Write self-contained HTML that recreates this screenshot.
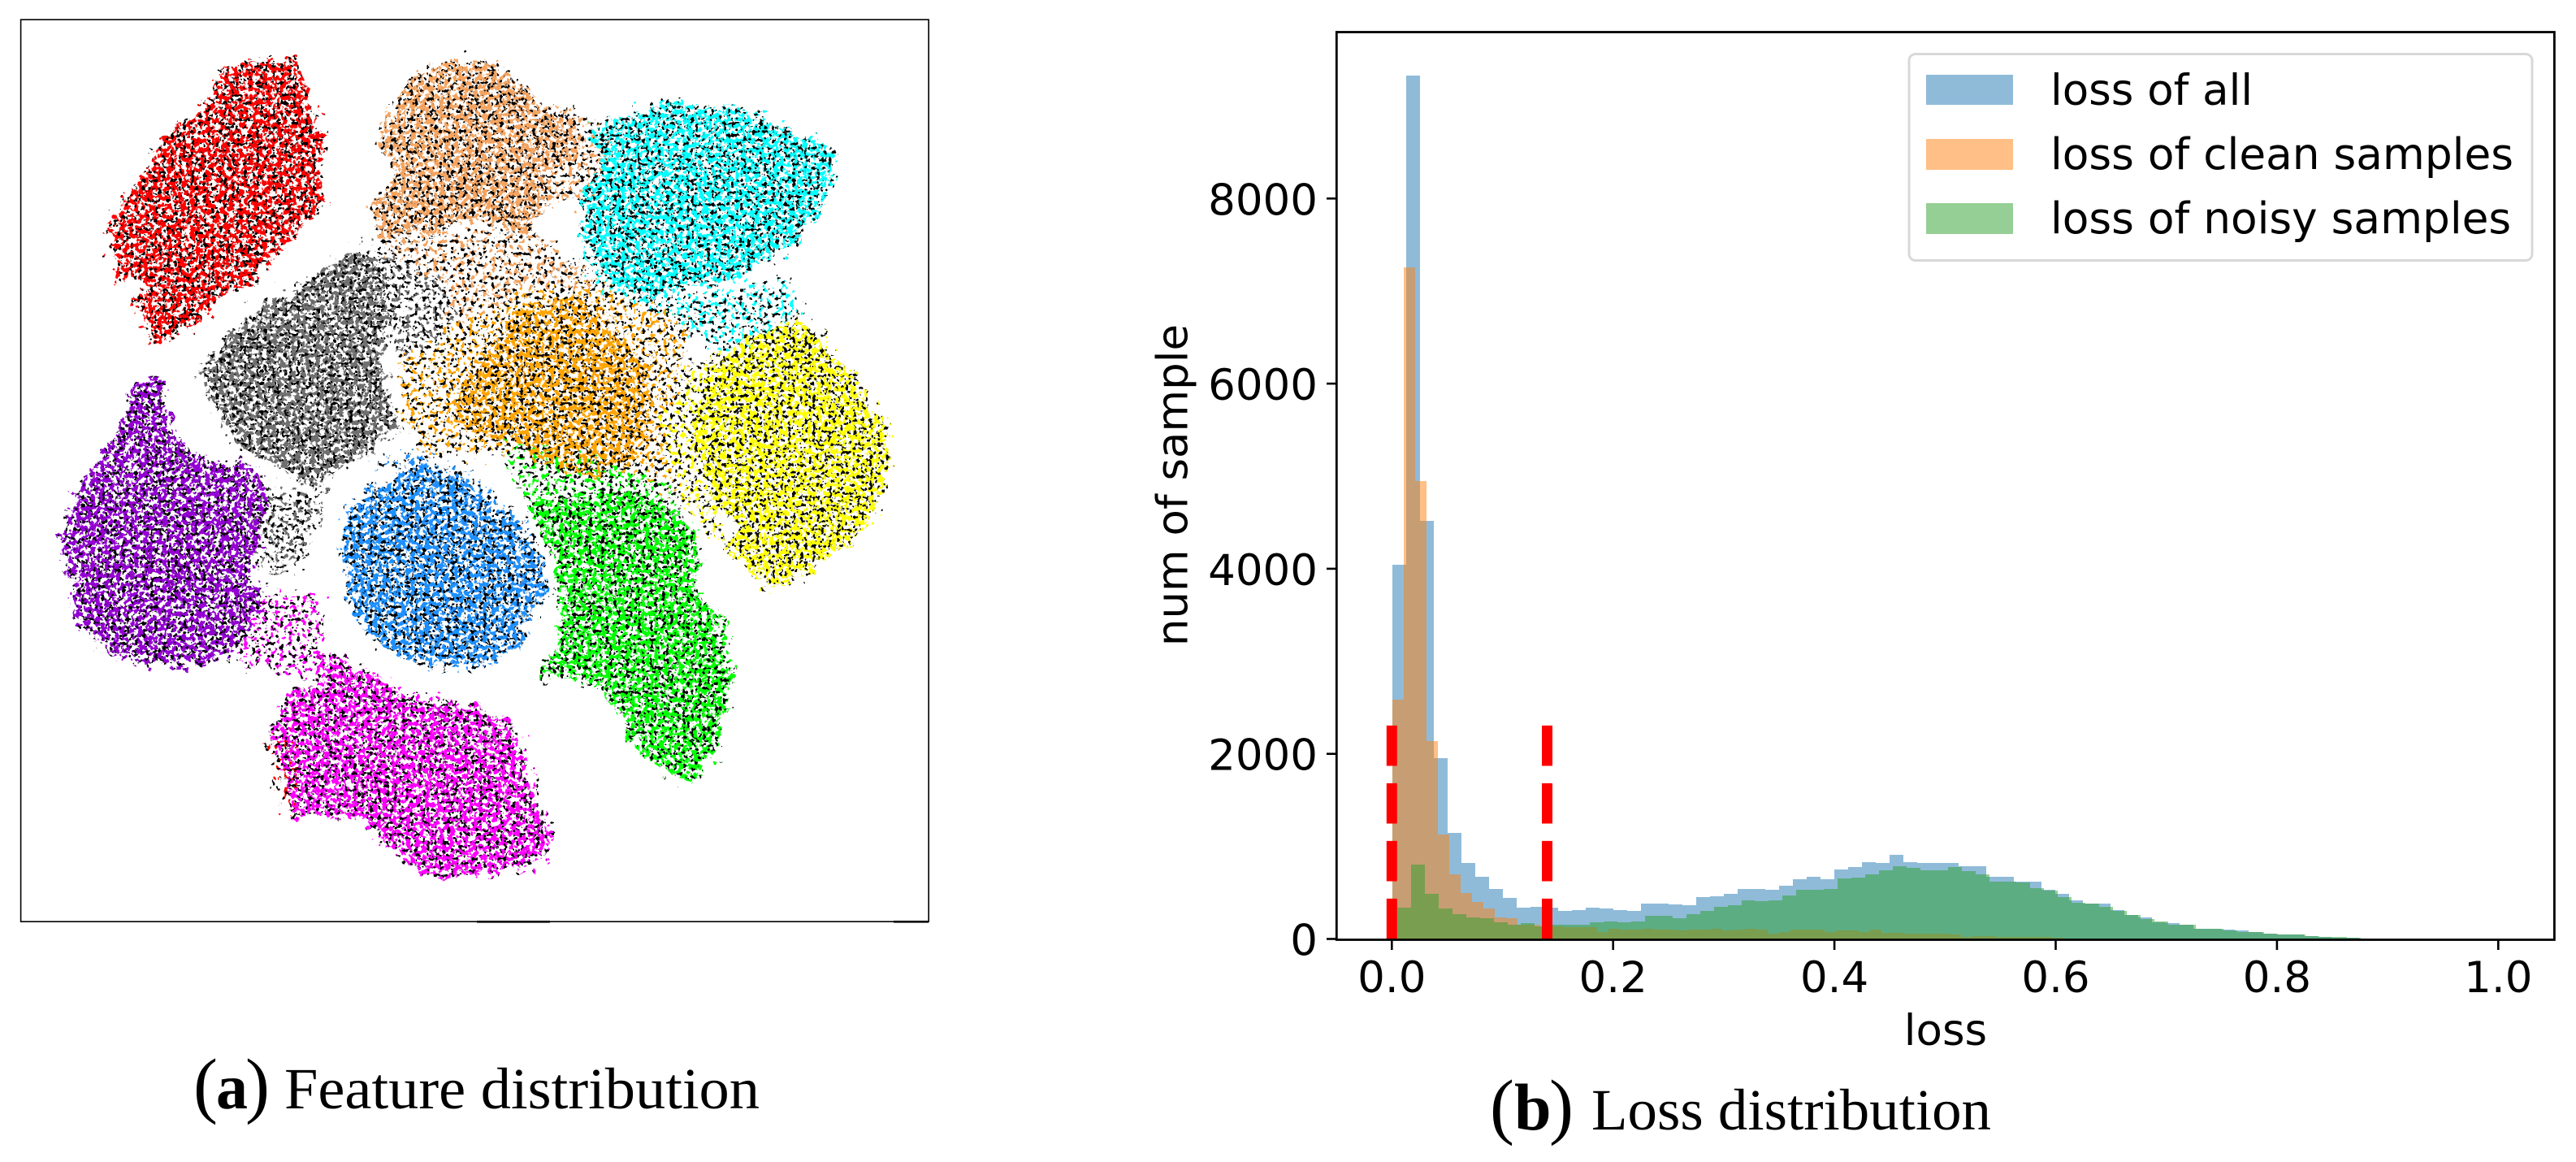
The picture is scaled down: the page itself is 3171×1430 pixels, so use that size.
<!DOCTYPE html>
<html>
<head>
<meta charset="utf-8">
<title>Feature and loss distribution</title>
<style>
html,body{margin:0;padding:0;background:#fff;}
svg{display:block;}
text{font-family:"DejaVu Sans","Liberation Sans",sans-serif;fill:#000;}
.cap{font-family:"Liberation Serif",serif;}
</style>
</head>
<body>
<svg id="figure" xmlns="http://www.w3.org/2000/svg" width="3171" height="1430" viewBox="0 0 3171 1430">
  <defs>
    <filter id="speckle-core" filterUnits="userSpaceOnUse" x="0" y="0" width="1171" height="1150" color-interpolation-filters="sRGB">
      <feTurbulence type="fractalNoise" baseFrequency="0.05" numOctaves="2" seed="4" result="warp"/>
      <feDisplacementMap in="SourceGraphic" in2="warp" scale="30" xChannelSelector="R" yChannelSelector="G" result="shape"/>
      <feTurbulence type="fractalNoise" baseFrequency="0.17" numOctaves="2" seed="7" result="n1"/>
      <feColorMatrix in="n1" type="matrix" values="0 0 0 0 0  0 0 0 0 0  0 0 0 0 0  0 0 0 30 -15.2" result="m1"/>
      <feComposite in="shape" in2="m1" operator="in" result="dots"/>
      <feTurbulence type="fractalNoise" baseFrequency="0.2" numOctaves="2" seed="23" result="n2"/>
      <feColorMatrix in="n2" type="matrix" values="0 0 0 0 0  0 0 0 0 0  0 0 0 0 0  0 0 0 30 -18.9" result="m2"/>
      <feComposite in="shape" in2="m2" operator="in" result="shape2"/>
      <feColorMatrix in="shape2" type="matrix" values="0 0 0 0 0  0 0 0 0 0  0 0 0 0 0  0 0 0 1 0" result="blackDots"/>
      <feMerge>
        <feMergeNode in="dots"/>
        <feMergeNode in="blackDots"/>
      </feMerge>
    </filter>
    <filter id="speckle-sparse" filterUnits="userSpaceOnUse" x="0" y="0" width="1171" height="1150" color-interpolation-filters="sRGB">
      <feTurbulence type="fractalNoise" baseFrequency="0.09" numOctaves="2" seed="9" result="warp"/>
      <feDisplacementMap in="SourceGraphic" in2="warp" scale="50" xChannelSelector="R" yChannelSelector="G" result="shape"/>
      <feTurbulence type="fractalNoise" baseFrequency="0.18" numOctaves="2" seed="31" result="n1"/>
      <feColorMatrix in="n1" type="matrix" values="0 0 0 0 0  0 0 0 0 0  0 0 0 0 0  0 0 0 30 -17.4" result="m1"/>
      <feComposite in="shape" in2="m1" operator="in" result="dots"/>
      <feTurbulence type="fractalNoise" baseFrequency="0.2" numOctaves="2" seed="47" result="n2"/>
      <feColorMatrix in="n2" type="matrix" values="0 0 0 0 0  0 0 0 0 0  0 0 0 0 0  0 0 0 30 -18.6" result="m2"/>
      <feComposite in="shape" in2="m2" operator="in" result="shape2"/>
      <feColorMatrix in="shape2" type="matrix" values="0 0 0 0 0  0 0 0 0 0  0 0 0 0 0  0 0 0 1 0" result="blackDots"/>
      <feMerge>
        <feMergeNode in="dots"/>
        <feMergeNode in="blackDots"/>
      </feMerge>
    </filter>
  </defs>

  <g id="panel-a">
    <g id="sparse-layer" filter="url(#speckle-sparse)"></g>
    <g id="core-layer" filter="url(#speckle-core)"></g>
    <rect x="25.6" y="24.2" width="1117.6" height="1110" fill="none" stroke="#000" stroke-width="1.6"/>
    <rect x="587" y="1133" width="90" height="2.6" fill="#000"/>
    <rect x="1100" y="1133" width="43" height="2.6" fill="#000"/>
  </g>

  <g id="panel-b">
    <g id="bars" shape-rendering="crispEdges"></g>
    <g id="thresholds"></g>
    <g id="axes"></g>
    <text x="2395" y="1286" font-size="53" text-anchor="middle">loss</text>
    <text transform="translate(1461.5,597) rotate(-90)" font-size="53" text-anchor="middle">num of sample</text>
    <g id="legend">
      <rect x="2350" y="66.5" width="767" height="254" rx="8" ry="8" fill="#fff" fill-opacity="0.8" stroke="#d8d8d8" stroke-width="3"/>
      <rect x="2371" y="92" width="107" height="37" fill="#1f77b4" fill-opacity="0.5"/>
      <text x="2524" y="129" font-size="53">loss of all</text>
      <rect x="2371" y="171" width="107" height="38" fill="#ff7f0e" fill-opacity="0.5"/>
      <text x="2524" y="208" font-size="53.3">loss of clean samples</text>
      <rect x="2371" y="250" width="107" height="38" fill="#2ca02c" fill-opacity="0.5"/>
      <text x="2524" y="287" font-size="53.3">loss of noisy samples</text>
    </g>
  </g>

  <g id="caption-a">
    <text class="cap" x="238" y="1365" font-size="90">(</text>
    <text class="cap" x="266" y="1364" font-size="78" font-weight="bold">a</text>
    <text class="cap" x="302" y="1365" font-size="90">)</text>
    <text class="cap" x="350" y="1364" font-size="72" textLength="585" lengthAdjust="spacingAndGlyphs">Feature distribution</text>
  </g>
  <g id="caption-b">
    <text class="cap" x="1834" y="1391" font-size="90">(</text>
    <text class="cap" x="1864" y="1390" font-size="82" font-weight="bold">b</text>
    <text class="cap" x="1907" y="1391" font-size="90">)</text>
    <text class="cap" x="1959" y="1390" font-size="72" textLength="492" lengthAdjust="spacingAndGlyphs">Loss distribution</text>
  </g>
</svg>

<script>
// ---- Histogram data (counts per bin) ----
var allCounts = [4043,9328,4517,1953,1146,823,672,544,439,342,351,334,307,316,334,325,316,307,386,386,369,360,448,465,483,536,544,527,579,641,676,641,755,773,834,825,913,834,825,825,825,790,790,676,676,615,615,527,483,421,386,386,316,263,237,184,167,158,114,114,97,88,79,53,44,44,35,26,15,9,4];
var cleanCounts = [2588,7256,4947,2138,1127,698,492,399,329,237,220,158,158,140,132,123,123,123,79,114,105,97,114,97,105,88,97,97,114,88,97,114,97,61,79,97,97,97,79,88,88,79,97,70,70,61,61,61,53,44,26,35,35,26,18,18,18,18,9,4];
var noisyCounts = [339,804,486,329,269,233,224,176,158,167,140,158,158,158,184,193,176,193,246,246,220,272,307,351,360,413,404,421,474,527,527,544,650,667,702,738,790,764,738,738,773,729,702,623,623,606,553,518,448,395,386,351,299,255,211,193,158,158,114,114,88,79,79,53,44,44,35,26,18,9];
var allBins = [0.0005, 0.01248];
var cleanBins = [0.0005, 0.01028];
var noisyBins = [0.0049, 0.01244];
var thresholdValues = [0.0, 0.1404];
var thresholdTop = [2310];
var xTickValues = [0.0, 0.2, 0.4, 0.6, 0.8, 1.0];
var xTickLabels = ["0.0", "0.2", "0.4", "0.6", "0.8", "1.0"];
var yTickValues = [0, 2000, 4000, 6000, 8000];
var yTickLabels = ["0", "2000", "4000", "6000", "8000"];

// ---- Feature map: the region each class occupies (embedding coordinates) ----
var redRegion = [[395,102],[490,105],[500,160],[530,225],[520,290],[530,340],[490,375],[450,430],[400,480],[350,500],[330,540],[260,575],[220,510],[240,470],[190,470],[183,375],[235,295],[275,225],[330,190],[360,125]];
var sandyRegion = [[725,105],[790,102],[850,140],[890,190],[945,195],[945,260],[900,290],[900,330],[860,390],[780,370],[700,390],[620,395],[605,350],[650,290],[622,240],[640,175],[680,140]];
var cyanRegion = [[1090,165],[1130,180],[1200,185],[1245,195],[1300,225],[1350,240],[1365,262],[1350,330],[1300,410],[1250,440],[1200,470],[1130,480],[1050,500],[1000,470],[960,420],[950,320],[985,280],[960,220],[1050,190]];
var grayRegion = [[580,425],[630,450],[630,520],[620,600],[640,680],[650,720],[600,760],[560,780],[520,820],[480,800],[400,750],[360,700],[330,630],[370,570],[425,520],[500,480],[540,450]];
var orangeRegion = [[850,515],[950,500],[1000,560],[1060,620],[1060,740],[1020,790],[920,800],[830,740],[740,710],[750,650],[800,590],[825,560]];
var yellowRegion = [[1180,600],[1230,565],[1300,540],[1340,560],[1350,590],[1400,640],[1450,720],[1450,800],[1420,880],[1350,940],[1300,975],[1260,985],[1190,925],[1210,880],[1170,840],[1130,740],[1150,660]];
var purpleRegion = [[260,640],[270,680],[290,740],[340,780],[400,775],[440,820],[430,880],[410,970],[430,990],[420,1030],[380,1100],[300,1120],[190,1105],[130,1050],[115,970],[100,925],[125,830],[165,770],[210,700],[215,650]];
var blueRegion = [[690,780],[770,820],[830,870],[880,930],[900,990],[860,1040],[855,1080],[780,1120],[680,1115],[620,1080],[580,1030],[560,930],[570,860],[610,820]];
var limeRegion = [[870,840],[1040,830],[1130,880],[1145,950],[1130,990],[1180,1040],[1195,1140],[1165,1270],[1130,1315],[1050,1270],[1020,1200],[980,1150],[930,1130],[880,1145],[910,1090],[920,1040],[910,950]];
var magentaRegion = [[520,1100],[590,1130],[660,1170],[780,1190],[840,1225],[870,1330],[900,1400],[890,1440],[830,1465],[700,1475],[640,1420],[590,1370],[480,1370],[465,1310],[440,1240],[470,1170],[530,1150]];
var coreRegions = [redRegion, sandyRegion, cyanRegion, grayRegion, orangeRegion, yellowRegion, purpleRegion, blueRegion, limeRegion, magentaRegion];
var coreNames = ["red","sandy","cyan","gray","orange","yellow","purple","blue","lime","magenta"];
var coreColors = ["#ff0000","#f4a460","#00ffff","#707070","#ffa500","#ffff00","#9400d3","#1e90ff","#00ff00","#ff00ff"];

var sandySparse = [[620,395],[860,390],[945,440],[1000,500],[850,505],[760,560],[700,620],[640,560],[650,450]];
var sandyBridge = [[890,170],[960,190],[1000,260],[960,340],[900,340],[900,250]];
var orangeSparse = [[650,560],[760,540],[860,490],[990,480],[1130,540],[1110,700],[1130,830],[1050,830],[830,770],[700,760],[660,700]];
var yellowSparse = [[1080,690],[1130,620],[1180,580],[1130,740],[1170,840],[1190,925],[1130,860],[1090,780]];
var graySparse = [[430,820],[530,830],[490,950],[430,960]];
var grayUpper = [[580,405],[650,430],[740,480],[730,570],[650,600]];
var limeSparse = [[830,740],[1050,790],[1130,860],[1040,850],[920,880],[850,830]];
var blueSparse = [[600,780],[700,760],[790,810],[860,880],[900,980],[830,880],[700,800]];
var cyanSparse = [[950,420],[1120,500],[1300,470],[1310,530],[1180,590],[1080,520],[990,490]];
var magentaBridge = [[390,1080],[430,1000],[520,1000],[530,1090],[590,1130],[530,1150],[470,1130],[400,1115]];
var magentaLeftEdge = [[440,1230],[480,1240],[490,1370],[460,1360]];
var sparseRegions = [sandySparse, sandyBridge, orangeSparse, yellowSparse, graySparse, grayUpper, limeSparse, blueSparse, cyanSparse, magentaBridge, magentaLeftEdge];
var sparseNames = ["sandy","sandy-bridge","orange","yellow","gray","gray-upper","lime","blue","cyan","magenta-bridge","magenta-left"];
var sparseColors = ["#f4a460","#f4a460","#ffa500","#ffff00","#707070","#707070","#00ff00","#1e90ff","#00ffff","#ff00ff","#ff0000"];

// ---- Axis functions ----
var NS = "http://www.w3.org/2000/svg";
function xScale(v){ return 1713.3 + 1362 * v; }
function yScale(c){ return 1155.5 - 0.1139 * c; }
function embedX(v){ return 25.6 + (v - 34) * 1117.6 / 1485; }
function embedY(v){ return 24.2 + (v - 33) * 1110 / 1516; }

function regionPoints(region){
  var out = [];
  for (var i = 0; i < region.length; i++) {
    out.push(embedX(region[i][0]).toFixed(1) + "," + embedY(region[i][1]).toFixed(1));
  }
  return out.join(" ");
}

var sparseLayer = document.getElementById("sparse-layer");
for (var h = 0; h < coreRegions.length; h++) {
  var hp = document.createElementNS(NS, "polygon");
  hp.setAttribute("points", regionPoints(coreRegions[h]));
  hp.setAttribute("fill", coreColors[h]);
  
  
  sparseLayer.appendChild(hp);
}
for (var s = 0; s < sparseRegions.length; s++) {
  var sp = document.createElementNS(NS, "polygon");
  sp.setAttribute("points", regionPoints(sparseRegions[s]));
  sp.setAttribute("fill", sparseColors[s]);
  
  
  sparseLayer.appendChild(sp);
}
var coreLayer = document.getElementById("core-layer");
for (var c = 0; c < coreRegions.length; c++) {
  var cp = document.createElementNS(NS, "polygon");
  cp.setAttribute("points", regionPoints(coreRegions[c]));
  cp.setAttribute("fill", coreColors[c]);
  
  
  coreLayer.appendChild(cp);
}

// ---- Histogram bars ----
var barsGroup = document.getElementById("bars");
function drawSeries(counts, bins, color, label){
  for (var i = 0; i < counts.length; i++) {
    var x0 = Math.round(xScale(bins[0] + i * bins[1]));
    var x1 = Math.round(xScale(bins[0] + (i + 1) * bins[1]));
    var y0 = Math.round(yScale(counts[i]));
    var y1 = Math.round(yScale(0));
    var r = document.createElementNS(NS, "rect");
    r.setAttribute("x", x0);
    r.setAttribute("y", y0);
    r.setAttribute("width", x1 - x0);
    r.setAttribute("height", Math.max(y1 - y0, 0));
    r.setAttribute("fill", color);
    r.setAttribute("fill-opacity", "0.5");
    
    
    barsGroup.appendChild(r);
  }
}
drawSeries(allCounts, allBins, "#1f77b4", "all");
drawSeries(cleanCounts, cleanBins, "#ff7f0e", "clean");
drawSeries(noisyCounts, noisyBins, "#2ca02c", "noisy");

// ---- Dashed thresholds ----
var thresholdGroup = document.getElementById("thresholds");
for (var t = 0; t < thresholdValues.length; t++) {
  var tl = document.createElementNS(NS, "line");
  tl.setAttribute("x1", xScale(thresholdValues[t]));
  tl.setAttribute("x2", xScale(thresholdValues[t]));
  tl.setAttribute("y1", yScale(0));
  tl.setAttribute("y2", yScale(thresholdTop[0]));
  tl.setAttribute("stroke", "#ff0000");
  tl.setAttribute("stroke-width", "13");
  tl.setAttribute("stroke-dasharray", "49.6 21.4");
  
  
  thresholdGroup.appendChild(tl);
}

// ---- Axes ----
var axesGroup = document.getElementById("axes");
var frame = document.createElementNS(NS, "rect");
frame.setAttribute("x", "1645.3");
frame.setAttribute("y", "39.5");
frame.setAttribute("width", "1499.1");
frame.setAttribute("height", "1117");
frame.setAttribute("fill", "none");
frame.setAttribute("stroke", "#000");
frame.setAttribute("stroke-width", "2.8");


axesGroup.appendChild(frame);

for (var xi = 0; xi < xTickValues.length; xi++) {
  var xt = document.createElementNS(NS, "line");
  xt.setAttribute("x1", xScale(xTickValues[xi]));
  xt.setAttribute("x2", xScale(xTickValues[xi]));
  xt.setAttribute("y1", "1157");
  xt.setAttribute("y2", "1169");
  xt.setAttribute("stroke", "#000");
  xt.setAttribute("stroke-width", "2.6");
  
  
  axesGroup.appendChild(xt);
  var xl = document.createElementNS(NS, "text");
  xl.setAttribute("x", xScale(xTickValues[xi]));
  xl.setAttribute("y", "1221");
  xl.setAttribute("font-size", "53");
  xl.setAttribute("text-anchor", "middle");
  
  
  xl.textContent = xTickLabels[xi];
  axesGroup.appendChild(xl);
}
for (var yi = 0; yi < yTickValues.length; yi++) {
  var yt = document.createElementNS(NS, "line");
  yt.setAttribute("x1", "1633");
  yt.setAttribute("x2", "1645");
  yt.setAttribute("y1", yScale(yTickValues[yi]));
  yt.setAttribute("y2", yScale(yTickValues[yi]));
  yt.setAttribute("stroke", "#000");
  yt.setAttribute("stroke-width", "2.6");
  
  
  axesGroup.appendChild(yt);
  var yl = document.createElementNS(NS, "text");
  yl.setAttribute("x", "1622");
  yl.setAttribute("y", yScale(yTickValues[yi]) + 20);
  yl.setAttribute("font-size", "53");
  yl.setAttribute("text-anchor", "end");
  
  
  yl.textContent = yTickLabels[yi];
  axesGroup.appendChild(yl);
}
</script>
</body>
</html>
